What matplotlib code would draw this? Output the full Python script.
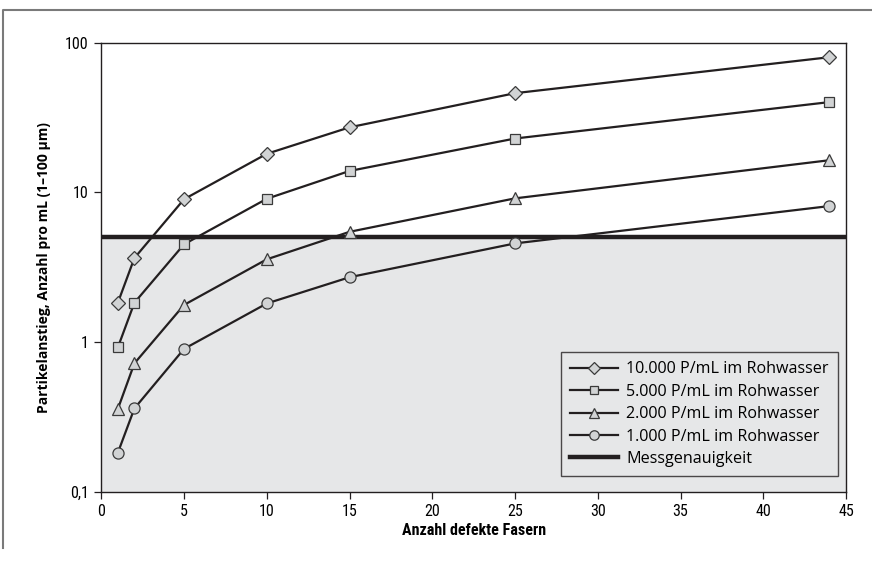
import matplotlib
matplotlib.use("Agg")
import matplotlib.pyplot as plt
from matplotlib import font_manager
from matplotlib.lines import Line2D
import numpy as np

# ---- data ----
x_vals = [1, 2, 5, 10, 15, 25, 44]
s10000 = [1.83, 3.64, 9.0, 18.1, 27.2, 46.0, 80.0]
s5000 = [0.92, 1.83, 4.5, 9.06, 13.9, 22.9, 40.1]
s2000 = [0.357, 0.72, 1.77, 3.57, 5.45, 9.12, 16.4]
s1000 = [0.182, 0.36, 0.90, 1.81, 2.71, 4.56, 8.1]
series_labels = ["10.000 P/mL im Rohwasser", "5.000 P/mL im Rohwasser",
                 "2.000 P/mL im Rohwasser", "1.000 P/mL im Rohwasser"]
accuracy = 5.0
accuracy_label = "Messgenauigkeit"
x_ticks = [0, 5, 10, 15, 20, 25, 30, 35, 40, 45]
y_ticks = [0.1, 1, 10, 100]
y_ticklabels = ["0,1", "1", "10", "100"]
xlabel = "Anzahl defekte Fasern"
ylabel = "Partikelanstieg, Anzahl pro mL (1–100 µm)"

names = {f.name for f in font_manager.fontManager.ttflist}
def pick(*cands):
    for c in cands:
        if c in names:
            return c
    return "DejaVu Sans"
narrow = pick("Liberation Sans Narrow", "Roboto Condensed", "Open Sans", "Lato")
main = pick("Open Sans", "Noto Sans", "Lato")

plt.rcParams['font.family'] = [main, 'DejaVu Sans']

dark = "#231f20"
shade = "#e6e7e8"
mfill = "#d1d3d4"

fig = plt.figure(figsize=(8.72, 5.66), dpi=100)
ax = fig.add_axes([101.3/872, 1-491.7/566, (846-101.3)/872, (491.7-42.7)/566])
ax.set_yscale('log')
ax.set_xlim(0, 45)
ax.set_ylim(0.1, 100)

ax.axhspan(0.1, accuracy, color=shade, zorder=0, lw=0)
ax.axhline(accuracy, color=dark, lw=3.2, zorder=2)

markers = ['D', 's', '^', 'o']
msizes = [7.5, 6.5, 8.5, 8.0]
for vals, lab, m, ms in zip([s10000, s5000, s2000, s1000], series_labels, markers, msizes):
    ax.plot(x_vals, vals, color=dark, lw=1.6, marker=m, ms=ms,
            mfc=mfill, mec="#3a3a3a", mew=0.9, zorder=3, label=lab)

ax.set_xticks(x_ticks)
ax.set_xticklabels([str(t) for t in x_ticks], fontfamily=narrow, fontsize=11.5)
ax.set_yticks(y_ticks)
ax.set_yticklabels(y_ticklabels, fontfamily=narrow, fontsize=11.5)
ax.minorticks_off()
ax.tick_params(direction='out', length=5, width=0.9, color=dark, pad=4)

for sp in ax.spines.values():
    sp.set_color(dark)
    sp.set_linewidth(1.0)

ax.set_xlabel(xlabel, fontfamily=narrow, fontweight='bold', fontsize=11.5, labelpad=3)
ax.set_ylabel(ylabel, fontweight='bold', fontsize=10, labelpad=10)

handles, labels = ax.get_legend_handles_labels()
handles.append(Line2D([], [], color=dark, lw=3.2))
labels.append(accuracy_label)
leg = ax.legend(handles, labels, loc='lower right', bbox_to_anchor=(0.989, 0.035),
                fontsize=11.6, frameon=True, fancybox=False, edgecolor=dark,
                facecolor='none', handlelength=3.0, handletextpad=0.5,
                labelspacing=0.4, borderpad=0.55, borderaxespad=0.0,
                markerscale=0.85)
leg.get_frame().set_linewidth(1.0)

# outer frame (top and left)
fig.add_artist(Line2D([3/872, 3/872, 1.0], [1-548/566, 1-10/566, 1-10/566],
                      transform=fig.transFigure, color="#7a7a7a", lw=1.5))

fig.savefig("out.png", dpi=100)
